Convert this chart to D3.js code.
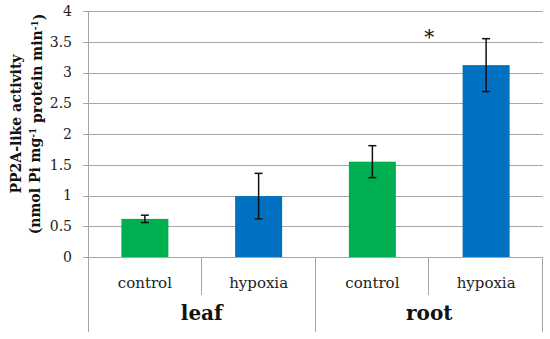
<!DOCTYPE html>
<html>
<head>
<meta charset="utf-8">
<script src="https://cdn.jsdelivr.net/npm/d3@7"></script>
<style>
  body { margin: 0; background: #fff; }
  svg { display: block; }
</style>
</head>
<body>
<div id="chart"></div>
<script>
// data
const groups = ["leaf", "leaf", "root", "root"];
const treatments = ["control", "hypoxia", "control", "hypoxia"];
const means = [0.62, 0.99, 1.55, 3.12];
const errors = [0.06, 0.37, 0.26, 0.43];
const barColors = ["#00b050", "#0070c0", "#00b050", "#0070c0"];
const yTicks = [0, 0.5, 1, 1.5, 2, 2.5, 3, 3.5, 4];
const groupNames = ["leaf", "root"];

const W = 550, H = 339;
const margin = { top: 11, right: 7, bottom: 82, left: 88 };
const width = W - margin.left - margin.right;
const height = H - margin.top - margin.bottom;
const serif = "'Palatino Linotype', 'Book Antiqua', Palatino, 'DejaVu Serif', serif";

const svg = d3.select("#chart").append("svg")
    .attr("width", W)
    .attr("height", H);

const g = svg.append("g")
    .attr("transform", `translate(${margin.left}, ${margin.top})`);

const keys = treatments.map((t, i) => i);
const x = d3.scaleBand()
    .domain(keys)
    .range([0, width])
    .paddingInner(0)
    .paddingOuter(0);

const y = d3.scaleLinear()
    .domain([0, 4])
    .range([height, 0]);

const gridColor = "#a6a6a6";

// gridlines + small ticks left of axis
g.selectAll(".grid")
    .data(yTicks)
    .join("line")
    .attr("x1", -5)
    .attr("x2", width)
    .attr("y1", d => Math.round(y(d)) + 0.5)
    .attr("y2", d => Math.round(y(d)) + 0.5)
    .attr("stroke", gridColor)
    .attr("stroke-width", 1);

// tick labels
g.selectAll(".ylab")
    .data(yTicks)
    .join("text")
    .attr("x", -16)
    .attr("y", d => y(d))
    .attr("dy", "0.35em")
    .attr("text-anchor", "end")
    .style("font-family", serif)
    .style("font-size", "14px")
    .style("fill", "#222")
    .text(d => d);

// left axis line runs down through the category area
g.append("line")
    .attr("x1", 0.5).attr("x2", 0.5)
    .attr("y1", 0).attr("y2", height + 75)
    .attr("stroke", gridColor);

// bars
const barW = 47;
g.selectAll(".bar")
    .data(means)
    .join("rect")
    .attr("x", (d, i) => x(i) + x.bandwidth() / 2 - barW / 2)
    .attr("y", d => y(d))
    .attr("width", barW)
    .attr("height", d => height - y(d))
    .attr("fill", (d, i) => barColors[i]);

// error bars
const capW = 4;
means.forEach((m, i) => {
    const cx = x(i) + x.bandwidth() / 2;
    const top = y(m + errors[i]);
    const bot = y(m - errors[i]);
    const eg = g.append("g").attr("stroke", "#111").attr("stroke-width", 1.5);
    eg.append("line").attr("x1", cx).attr("x2", cx).attr("y1", top).attr("y2", bot);
    eg.append("line").attr("x1", cx - capW).attr("x2", cx + capW).attr("y1", top).attr("y2", top);
    eg.append("line").attr("x1", cx - capW).attr("x2", cx + capW).attr("y1", bot).attr("y2", bot);
});

// significance star between root bars
g.append("text")
    .attr("x", x(3))
    .attr("y", y(3.69))
    .attr("dy", "0.7em")
    .attr("text-anchor", "middle")
    .style("font-family", serif)
    .style("font-size", "20px")
    .style("fill", "#111")
    .text("*");

// category separators
keys.slice(1).concat([keys.length]).forEach(i => {
    const xx = i === keys.length ? width : x(i);
    const isGroupEdge = i === keys.length || groups[i] !== groups[i - 1];
    g.append("line")
        .attr("x1", Math.round(xx) - 0.5).attr("x2", Math.round(xx) - 0.5)
        .attr("y1", height)
        .attr("y2", height + (isGroupEdge ? 75 : 38))
        .attr("stroke", gridColor);
});

// treatment labels
g.selectAll(".cat")
    .data(treatments)
    .join("text")
    .attr("x", (d, i) => x(i) + x.bandwidth() / 2)
    .attr("y", height + 26)
    .attr("dy", "0.35em")
    .attr("text-anchor", "middle")
    .style("font-family", serif)
    .style("font-size", "15px")
    .style("fill", "#222")
    .text(d => d);

// group labels
groupNames.forEach(name => {
    const idx = keys.filter(i => groups[i] === name);
    const x0 = x(idx[0]);
    const x1 = x(idx[idx.length - 1]) + x.bandwidth();
    g.append("text")
        .attr("x", (x0 + x1) / 2)
        .attr("y", height + 56)
        .attr("dy", "0.35em")
        .attr("text-anchor", "middle")
        .style("font-family", serif)
        .style("font-size", "20px")
        .style("font-weight", "bold")
        .style("fill", "#111")
        .text(name);
});

// y axis title (two lines)
const title = svg.append("text")
    .attr("transform", `translate(0, 124) rotate(-90)`)
    .attr("text-anchor", "middle")
    .style("font-family", serif)
    .style("font-size", "14px")
    .style("font-weight", "bold")
    .style("fill", "#111");

title.append("tspan").attr("x", 0).attr("y", 21).text("PP2A-like activity");
const l2 = title.append("tspan").attr("x", 0).attr("y", 40);
l2.append("tspan").text("(nmol Pi mg");
l2.append("tspan").attr("dy", "-0.4em").style("font-size", "9px").text("-1");
l2.append("tspan").attr("dy", "0.4em").text(" protein min");
l2.append("tspan").attr("dy", "-0.4em").style("font-size", "9px").text("-1");
l2.append("tspan").attr("dy", "0.4em").text(")");
</script>
</body>
</html>
